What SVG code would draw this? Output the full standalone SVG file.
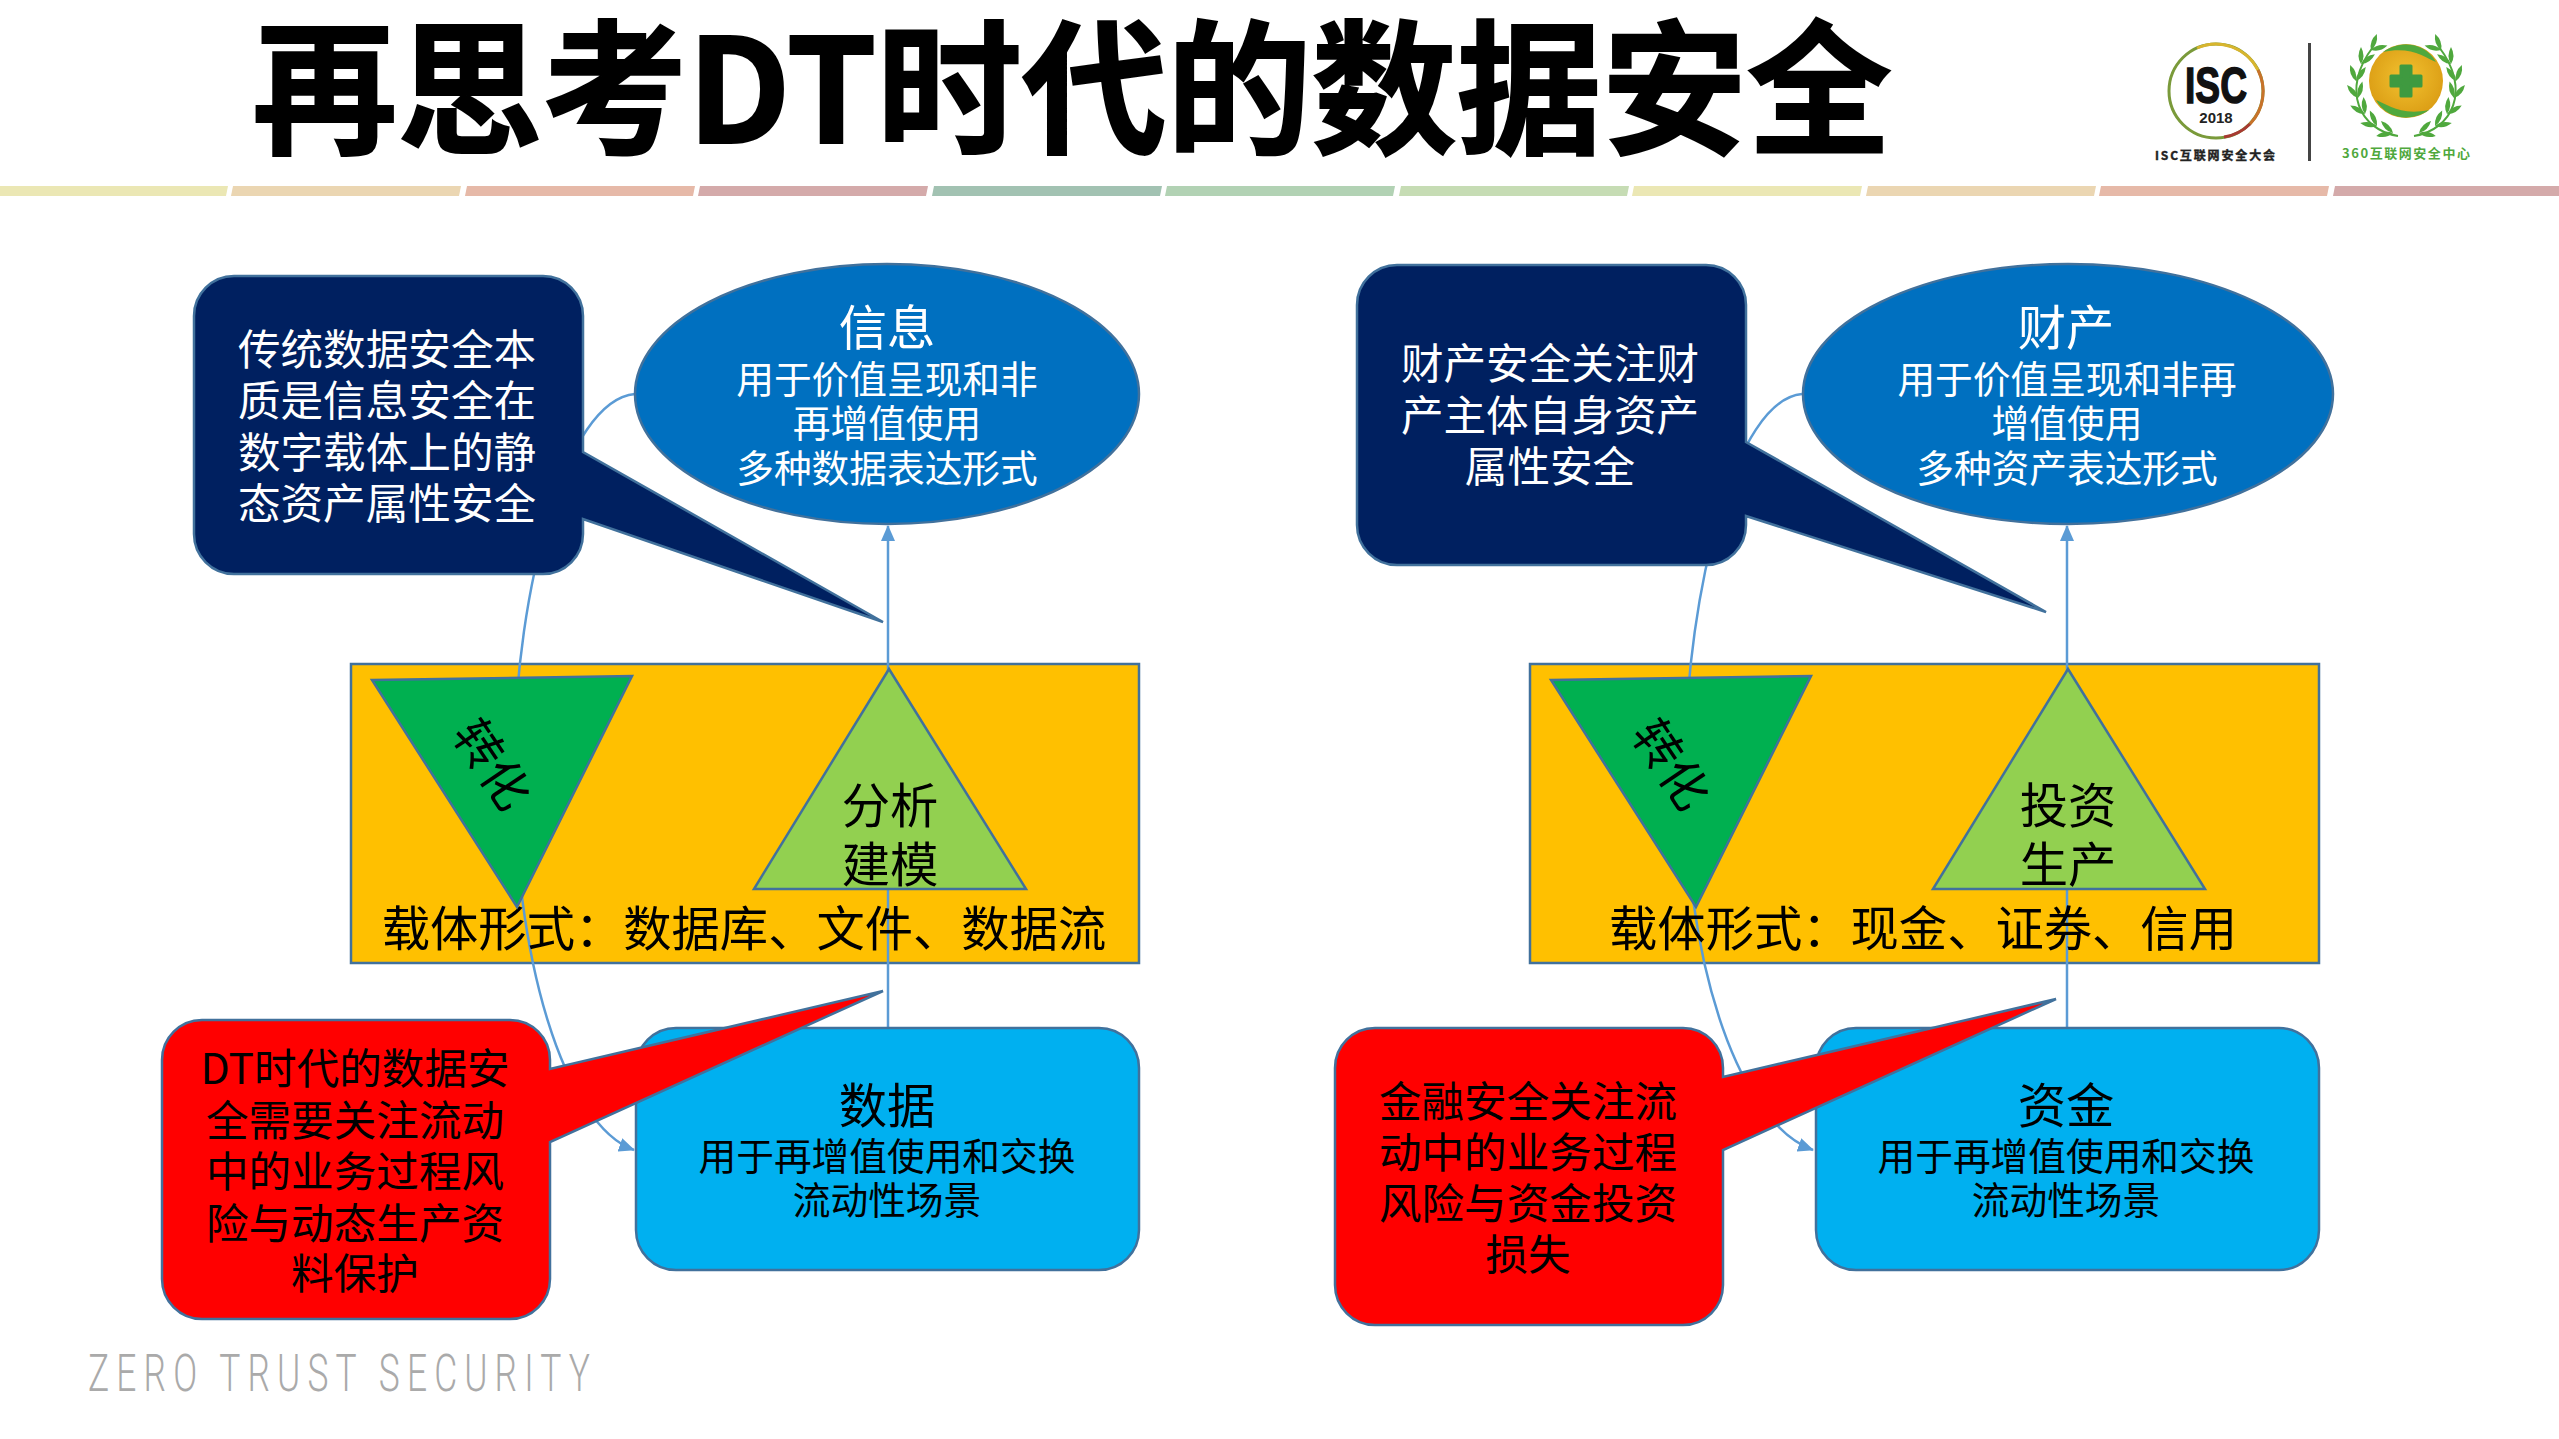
<svg xmlns="http://www.w3.org/2000/svg" width="2559" height="1439" viewBox="0 0 2559 1439">
<style>
text{font-family:"Noto Sans CJK SC","Noto Sans",sans-serif;text-anchor:middle}
.s{stroke:#41719C;stroke-width:2.5}
.w{fill:#fff}.k{fill:#000}
.t48{font-size:48.3px}.t375{font-size:37.7px}.t42{font-size:42.6px}
.conn{fill:none;stroke:#5B9BD5;stroke-width:2.5}
.bar{stroke:none}
</style>
<defs>
<marker id="arrL" markerWidth="16" markerHeight="14" refX="15" refY="7" orient="auto" markerUnits="userSpaceOnUse" viewBox="0 0 16 14"><path d="M0 0L16 7L0 14z" fill="#5B9BD5"/></marker>
<path id="leaf" d="M0 0Q-8 -5 -17 0Q-8 5 0 0z" fill="#4fa83d"/>
<g id="wing" fill="none">
<path d="M2398 136C2360 130 2340 90 2373 47" stroke="#4fa83d" stroke-width="2"/>
<use href="#leaf" transform="translate(2393,133) rotate(-10)"/><use href="#leaf" transform="translate(2393,133) rotate(45)"/>
<use href="#leaf" transform="translate(2377,126) rotate(10)"/><use href="#leaf" transform="translate(2377,126) rotate(65)"/>
<use href="#leaf" transform="translate(2365,114) rotate(30)"/><use href="#leaf" transform="translate(2365,114) rotate(85)"/>
<use href="#leaf" transform="translate(2358,98) rotate(50)"/><use href="#leaf" transform="translate(2358,98) rotate(105)"/>
<use href="#leaf" transform="translate(2356,81) rotate(70)"/><use href="#leaf" transform="translate(2356,81) rotate(125)"/>
<use href="#leaf" transform="translate(2361,64) rotate(90)"/><use href="#leaf" transform="translate(2361,64) rotate(145)"/>
<use href="#leaf" transform="translate(2371,50) rotate(110)"/><use href="#leaf" transform="translate(2371,50) rotate(165)"/>
</g>
<radialGradient id="orb" cx="50%" cy="45%" r="60%"><stop offset="0" stop-color="#f2c230"/><stop offset="1" stop-color="#d99a12"/></radialGradient>
</defs>
<rect width="2559" height="1439" fill="#fff"/>

<g id="header-bars" class="bar">
<path d="M0 186H228L226 196H0z" fill="#ebe7b4"/>
<path d="M233 186H461L459 196H231z" fill="#ebd6b2"/>
<path d="M467 186H695L693 196H465z" fill="#e6b9a8"/>
<path d="M700 186H928L926 196H698z" fill="#d4aaaa"/>
<path d="M934 186H1162L1160 196H932z" fill="#a2c2b2"/>
<path d="M1167 186H1395L1393 196H1165z" fill="#b2d2b4"/>
<path d="M1401 186H1629L1627 196H1399z" fill="#c6dcb4"/>
<path d="M1634 186H1862L1860 196H1632z" fill="#ebe7b4"/>
<path d="M1868 186H2096L2094 196H1866z" fill="#ebd6b2"/>
<path d="M2101 186H2329L2327 196H2099z" fill="#e6b9a8"/>
<path d="M2335 186H2559V196H2333z" fill="#d4aaaa"/>
</g>

<text id="title" x="1072" y="143" font-size="145" font-weight="700" fill="#000" stroke="#000" stroke-width="2">再思考DT时代的数据安全</text>

<g id="logo-isc">
<circle cx="2216" cy="91" r="47" fill="#fff" stroke="#7a9a3a" stroke-width="3"/>
<path d="M2197 48A47 47 0 0 1 2258 70" fill="none" stroke="#d8b52e" stroke-width="3"/>
<path d="M2258 70A47 47 0 0 1 2250 124" fill="none" stroke="#c8722a" stroke-width="3"/>
<path d="M2250 124A47 47 0 0 1 2224 137" fill="none" stroke="#a83a32" stroke-width="3"/>
<text x="2216" y="103" font-size="50" font-weight="700" textLength="62" lengthAdjust="spacingAndGlyphs" fill="#111" stroke="#111" stroke-width="1.5" style="font-family:'Liberation Sans',sans-serif">ISC</text>
<text x="2216" y="123" font-size="15" font-weight="700" fill="#222" style="font-family:'Liberation Sans',sans-serif">2018</text>
<text x="2215" y="160" font-size="12" font-weight="700" textLength="120" fill="#222" stroke="#222" stroke-width=".4">ISC互联网安全大会</text>
</g>
<rect id="logo-divider" x="2308" y="43" width="3" height="118" fill="#444"/>
<g id="logo-360">
<use href="#wing"/>
<use href="#wing" transform="translate(4812,0) scale(-1,1)"/>
<circle cx="2406" cy="81" r="37" fill="url(#orb)"/>
<path d="M2383 52C2400 40 2425 42 2436 62C2425 58 2412 46 2383 52zM2429 110C2412 122 2387 120 2376 100C2387 104 2400 116 2429 110z" fill="#4fa83d"/>
<path d="M2401 66H2411V76H2421V86H2411V96H2401V86H2391V76H2401z" fill="#3f9a40" stroke="#3f9a40" stroke-width="3" stroke-linejoin="round"/>
<text x="2406" y="158" font-size="13" font-weight="700" textLength="128" fill="#4fa83d">360互联网安全中心</text>
</g>

<g id="carrier-left"><rect class="s" x="351" y="664" width="788" height="299" fill="#FFC000"/></g>
<g id="carrier-right"><rect class="s" x="1530" y="664" width="789" height="299" fill="#FFC000"/></g>

<g id="connectors">
<path class="conn" d="M635 394C565 400 516 590 514 760C513 960 565 1125 634 1150" marker-end="url(#arrL)"/>
<path class="conn" d="M888 1028V526" marker-end="url(#arrL)"/>
<path class="conn" d="M1802 394C1735 400 1687 590 1685 760C1684 980 1744 1125 1813 1150" marker-end="url(#arrL)"/>
<path class="conn" d="M2067 1028V526" marker-end="url(#arrL)"/>
</g>

<g id="carrier-left-label"><text class="k t48" x="744" y="946">载体形式：数据库、文件、数据流</text></g>
<g id="carrier-right-label"><text class="k t48" x="1923" y="946">载体形式：现金、证券、信用</text></g>

<g id="convert-left">
<path class="s" d="M372 680L632 676L517 907z" fill="#00B050"/>
<text class="k" font-size="48" transform="translate(491,765) rotate(56)" y="16">转化</text>
</g>
<g id="model-left">
<path class="s" d="M889 669L754 889H1026z" fill="#92D050"/>
<text class="k t48" x="890" y="823">分析</text>
<text class="k t48" x="890" y="882">建模</text>
</g>
<g id="convert-right">
<path class="s" d="M1551 680L1811 676L1696 907z" fill="#00B050"/>
<text class="k" font-size="48" transform="translate(1670,765) rotate(56)" y="16">转化</text>
</g>
<g id="invest-right">
<path class="s" d="M2068 669L1933 889H2205z" fill="#92D050"/>
<text class="k t48" x="2068" y="823">投资</text>
<text class="k t48" x="2068" y="882">生产</text>
</g>

<g id="info-ellipse">
<ellipse class="s" cx="887" cy="394" rx="252" ry="130" fill="#0070C0"/>
<text class="w t48" x="887" y="345">信息</text>
<text class="w t375" x="887" y="393">用于价值呈现和非</text>
<text class="w t375" x="887" y="437">再增值使用</text>
<text class="w t375" x="887" y="482">多种数据表达形式</text>
</g>
<g id="asset-ellipse">
<ellipse class="s" cx="2068" cy="394" rx="265" ry="130" fill="#0070C0"/>
<text class="w t48" x="2066" y="345">财产</text>
<text class="w t375" x="2067" y="393">用于价值呈现和非再</text>
<text class="w t375" x="2067" y="437">增值使用</text>
<text class="w t375" x="2067" y="482">多种资产表达形式</text>
</g>
<g id="data-box">
<rect class="s" x="636" y="1028" width="503" height="242" rx="40" fill="#00B0F0"/>
<text class="k t48" x="887" y="1123">数据</text>
<text class="k t375" x="887" y="1170">用于再增值使用和交换</text>
<text class="k t375" x="887" y="1214">流动性场景</text>
</g>
<g id="fund-box">
<rect class="s" x="1816" y="1028" width="503" height="242" rx="40" fill="#00B0F0"/>
<text class="k t48" x="2066" y="1123">资金</text>
<text class="k t375" x="2066" y="1170">用于再增值使用和交换</text>
<text class="k t375" x="2066" y="1214">流动性场景</text>
</g>

<g id="callout-navy-left">
<path class="s" fill="#002060" d="M234 276H543A40 40 0 0 1 583 316V452L883 622L583 519V534A40 40 0 0 1 543 574H234A40 40 0 0 1 194 534V316A40 40 0 0 1 234 276z"/>
<text class="w t42" x="387" y="365">传统数据安全本</text>
<text class="w t42" x="387" y="416">质是信息安全在</text>
<text class="w t42" x="387" y="468">数字载体上的静</text>
<text class="w t42" x="387" y="519">态资产属性安全</text>
</g>
<g id="callout-navy-right">
<path class="s" fill="#002060" d="M1397 265H1706A40 40 0 0 1 1746 305V442L2046 612L1746 516V525A40 40 0 0 1 1706 565H1397A40 40 0 0 1 1357 525V305A40 40 0 0 1 1397 265z"/>
<text class="w t42" x="1550" y="379">财产安全关注财</text>
<text class="w t42" x="1550" y="431">产主体自身资产</text>
<text class="w t42" x="1550" y="482">属性安全</text>
</g>
<g id="callout-red-left">
<path class="s" fill="#FF0000" d="M202 1020H510A40 40 0 0 1 550 1060V1069L883 991L550 1142V1279A40 40 0 0 1 510 1319H202A40 40 0 0 1 162 1279V1060A40 40 0 0 1 202 1020z"/>
<text class="k t42" x="355" y="1084">DT时代的数据安</text>
<text class="k t42" x="355" y="1136">全需要关注流动</text>
<text class="k t42" x="355" y="1187">中的业务过程风</text>
<text class="k t42" x="355" y="1239">险与动态生产资</text>
<text class="k t42" x="355" y="1289">料保护</text>
</g>
<g id="callout-red-right">
<path class="s" fill="#FF0000" d="M1375 1028H1683A40 40 0 0 1 1723 1068V1077L2056 999L1723 1150V1285A40 40 0 0 1 1683 1325H1375A40 40 0 0 1 1335 1285V1068A40 40 0 0 1 1375 1028z"/>
<text class="k t42" x="1528" y="1117">金融安全关注流</text>
<text class="k t42" x="1528" y="1168">动中的业务过程</text>
<text class="k t42" x="1528" y="1219">风险与资金投资</text>
<text class="k t42" x="1528" y="1270">损失</text>
</g>

<text id="footer" transform="translate(339,1391) scale(.68,1)" font-size="52" font-weight="300" fill="#aaaaaa" textLength="738" lengthAdjust="spacing" style="font-family:Roboto,'Noto Sans',sans-serif">ZERO TRUST SECURITY</text>
</svg>
